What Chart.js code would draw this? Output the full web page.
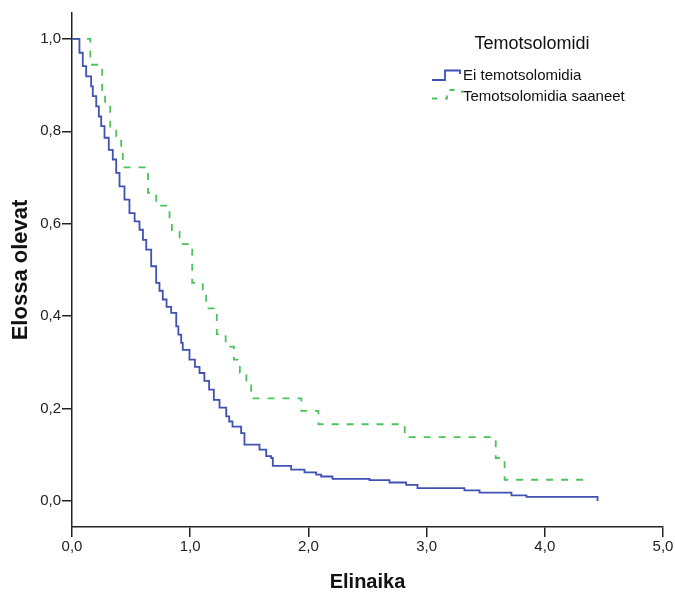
<!DOCTYPE html>
<html>
<head>
<meta charset="utf-8">
<script src="https://cdn.jsdelivr.net/npm/chart.js@4/dist/chart.umd.min.js"></script>
<style>
  body { margin: 0; background: #fff; }
  #wrap { width: 675px; height: 593px; }
</style>
</head>
<body>
<div id="wrap"><canvas id="km" width="675" height="593"></canvas></div>
<script>
// Elinaika (vuotta) ja elossa olevien osuus, luettu kuvasta
const eiTimes = [0, 0.063, 0.091, 0.120, 0.162, 0.176, 0.205, 0.227, 0.247, 0.275, 0.311, 0.345, 0.374, 0.402, 0.444, 0.486, 0.53, 0.571, 0.60, 0.628, 0.670, 0.712, 0.74, 0.768, 0.80, 0.839, 0.882, 0.90, 0.924, 0.937, 0.994, 1.04, 1.079, 1.12, 1.16, 1.20, 1.248, 1.305, 1.33, 1.358, 1.431, 1.459, 1.586, 1.643, 1.685, 1.699, 1.854, 1.967, 2.066, 2.108, 2.204, 2.517, 2.686, 2.827, 2.923, 3.32, 3.448, 3.718, 3.845, 4.446];
const eiSurv = [1.0, 0.970, 0.941, 0.919, 0.897, 0.876, 0.854, 0.832, 0.811, 0.786, 0.760, 0.739, 0.710, 0.681, 0.652, 0.623, 0.605, 0.587, 0.565, 0.544, 0.508, 0.472, 0.455, 0.436, 0.42, 0.407, 0.378, 0.36, 0.342, 0.327, 0.306, 0.29, 0.277, 0.26, 0.241, 0.219, 0.202, 0.183, 0.172, 0.161, 0.147, 0.122, 0.111, 0.097, 0.093, 0.076, 0.068, 0.062, 0.057, 0.053, 0.048, 0.045, 0.040, 0.035, 0.028, 0.023, 0.018, 0.012, 0.0087, 0.0];

const temoTimes = [0, 0.155, 0.255, 0.28, 0.323, 0.374, 0.416, 0.43, 0.643, 0.712, 0.825, 0.845, 0.91, 1.017, 1.106, 1.135, 1.225, 1.30, 1.37, 1.42, 1.475, 1.516, 1.94, 2.085, 2.815, 3.585, 3.66, 4.37];
const temoSurv = [1.0, 0.944, 0.889, 0.861, 0.81, 0.789, 0.765, 0.722, 0.667, 0.639, 0.611, 0.583, 0.556, 0.472, 0.444, 0.417, 0.361, 0.334, 0.306, 0.278, 0.25, 0.222, 0.195, 0.166, 0.138, 0.093, 0.046, 0.046];

const yTicks = [0, 0.2, 0.4, 0.6, 0.8, 1.0];
const legendTitle = 'Temotsolomidi';
const seriesNames = ['Ei temotsolomidia', 'Temotsolomidia saaneet'];

const blue = '#3f51b5';
const green = '#4cc35c';
const FONT = "'Liberation Sans', Arial, sans-serif";

function toPoints(xs, ys) {
    return xs.map((x, i) => ({ x: x, y: ys[i] }));
}

function fmt(v) {
    return v.toFixed(1).replace('.', ',');
}

// legenda piirretään itse kuvaajan sisälle
const legendPlugin = {
    id: 'kmLegend',
    afterDraw(chart) {
        const ctx = chart.ctx;
        ctx.save();
        ctx.fillStyle = '#111';
        ctx.textBaseline = 'middle';
        ctx.font = '18px ' + FONT;
        ctx.textAlign = 'center';
        ctx.fillText(legendTitle, 532, 44);

        ctx.textAlign = 'left';
        ctx.font = '15px ' + FONT;
        ctx.fillText(seriesNames[0], 463, 76);
        ctx.fillText(seriesNames[1], 463, 97);

        ctx.lineWidth = 1.8;
        ctx.strokeStyle = blue;
        ctx.beginPath();
        ctx.moveTo(432, 80); ctx.lineTo(445, 80); ctx.lineTo(445, 70.5);
        ctx.lineTo(460, 70.5); ctx.lineTo(460, 74);
        ctx.stroke();

        ctx.strokeStyle = green;
        ctx.setLineDash([5, 8]);
        ctx.beginPath();
        ctx.moveTo(432, 98.5); ctx.lineTo(447, 98.5); ctx.lineTo(447, 90);
        ctx.lineTo(462, 90); ctx.lineTo(462, 93);
        ctx.stroke();
        ctx.restore();
    }
};

new Chart(document.getElementById('km'), {
    type: 'scatter',
    data: {
        datasets: [{
            label: seriesNames[0],
            data: toPoints(eiTimes, eiSurv),
            showLine: true,
            stepped: 'before',
            borderColor: blue,
            borderWidth: 1.8,
            pointRadius: 0
        }, {
            label: seriesNames[1],
            data: toPoints(temoTimes, temoSurv),
            showLine: true,
            stepped: 'before',
            borderColor: green,
            borderWidth: 1.8,
            borderDash: [7, 8],
            pointRadius: 0
        }]
    },
    options: {
        responsive: false,
        animation: false,
        layout: { padding: { top: 13, right: 12, left: 0, bottom: 0 } },
        plugins: {
            legend: { display: false },
            tooltip: { enabled: false }
        },
        scales: {
            x: {
                type: 'linear',
                min: 0,
                max: 5,
                afterFit(scale) { scale.height = 66; },
                border: { color: '#222', width: 1.5 },
                grid: { drawOnChartArea: false, drawTicks: true, tickLength: 10, color: '#222', lineWidth: 1.5 },
                ticks: {
                    stepSize: 1,
                    padding: 1,
                    color: '#222',
                    font: { family: FONT, size: 15 },
                    callback: (v) => fmt(v)
                },
                title: {
                    display: true,
                    text: 'Elinaika',
                    color: '#111',
                    font: { family: FONT, size: 20, weight: 'bold', lineHeight: 1 },
                    padding: { top: 0, bottom: 1 }
                }
            },
            y: {
                type: 'linear',
                min: -0.0563,
                max: 1.056,
                afterFit(scale) { scale.width = 72; },
                afterBuildTicks(scale) {
                    scale.ticks = yTicks.map(v => ({ value: v }));
                },
                border: { color: '#222', width: 1.5 },
                grid: { drawOnChartArea: false, drawTicks: true, tickLength: 10, color: '#222', lineWidth: 1.5 },
                ticks: {
                    padding: 1,
                    color: '#222',
                    font: { family: FONT, size: 15 },
                    callback: (v) => fmt(v)
                },
                title: {
                    display: true,
                    text: 'Elossa olevat',
                    color: '#111',
                    font: { family: FONT, size: 22, weight: 'bold', lineHeight: 1 },
                    padding: { top: 10, bottom: 0 }
                }
            }
        }
    },
    plugins: [legendPlugin]
});
</script>
</body>
</html>
